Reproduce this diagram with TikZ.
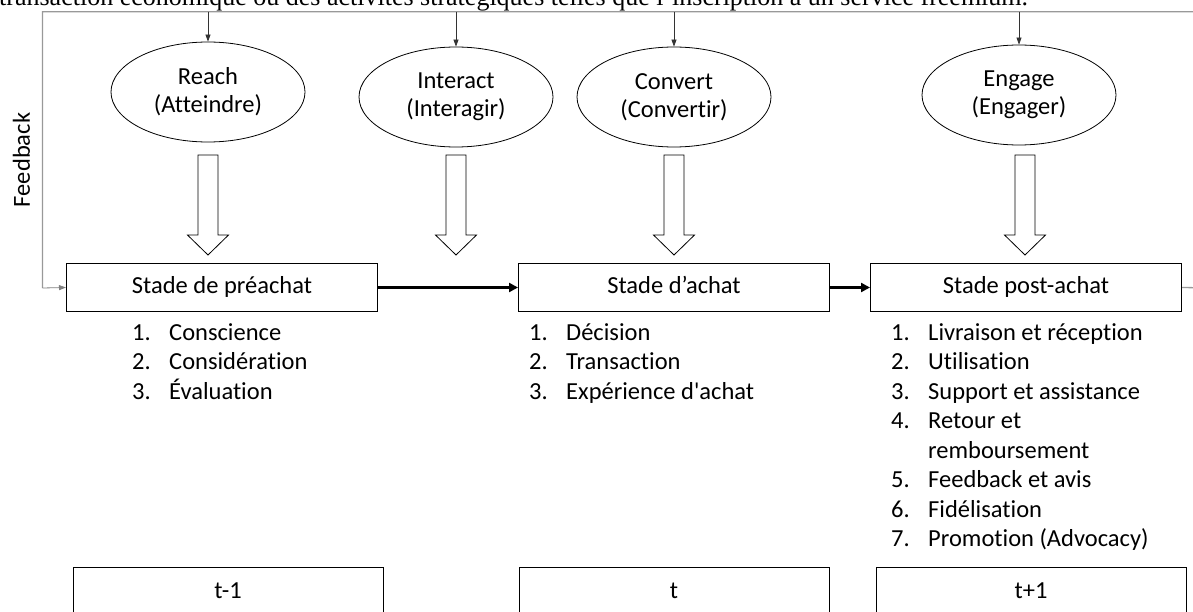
\documentclass[tikz,border=0pt]{standalone}
\usepackage{fontspec}
\setmainfont{Carlito}[Ligatures={TeX,NoCommon}]
\newfontfamily\topserif{Liberation Serif}
\usetikzlibrary{shapes.geometric,arrows.meta}
\tikzset{
  txt/.style={font=\fontsize{24.5}{28}\selectfont},
  stagebox/.style={draw,line width=1pt,minimum width=311pt,minimum height=48pt,inner sep=0pt,text height=16pt,text depth=5pt,txt},
  timebox/.style={draw,line width=1pt,minimum width=310pt,minimum height=52pt,inner sep=0pt,text height=16pt,text depth=5pt,txt},
  phase/.style={draw,ellipse,line width=0.8pt,minimum width=194pt,minimum height=100pt,inner sep=0pt,align=center,txt},
  drop/.style={draw=black!80,line width=0.7pt,-{Triangle[length=7pt,width=5pt]}},
  loopline/.style={draw=black!40,line width=1.3pt},
  flow/.style={draw,line width=2.8pt,-{Triangle[length=9pt,width=9pt]}},
  item/.style={anchor=base west,inner sep=0pt,txt},
  bigarrow/.style={draw,line width=0.8pt,fill=white}
}
\newcommand\hollowarrow[1]{%
  \draw[bigarrow] ({#1-10},155) -- ({#1+10},155) -- ({#1+10},235) -- ({#1+20.5},235)
    -- (#1,255) -- ({#1-20.5},235) -- ({#1-10},235) -- cycle;}
\newcommand\listitems[2]{%
  \foreach \n/\t [count=\i from 0] in {#2} {
    \node[item] at (#1,{340+29.5*\i}) {\n};
    \node[item] at ({#1+37},{340+29.5*\i}) {\t};
  }}
\begin{document}
\begin{tikzpicture}[x=1pt,y=-1pt]
\useasboundingbox (0,0) rectangle (1193,612);
\clip (0,0) rectangle (1193,612);

% clipped line of text above the figure
\node[anchor=base west,inner sep=0pt,font=\topserif\fontsize{26}{30}\selectfont] (toptext) at (-1,5.5)
  {transaction économique ou des activités stratégiques telles que l’inscription à un service freemium.};

% phases
\node[phase] (reach)    at (208,92)  {Reach\\(Atteindre)};
\node[phase] (interact) at (456,97)  {Interact\\(Interagir)};
\node[phase] (convert)  at (674,97)  {Convert\\(Convertir)};
\node[phase] (engage)   at (1019,95) {Engage\\(Engager)};

% stages
\node[stagebox] (pre)  at (222,287.5)  {Stade de préachat};
\node[stagebox] (buy)  at (674,287.5)  {Stade d’achat};
\node[stagebox] (post) at (1026,287.5) {Stade post-achat};

% time boxes
\node[timebox] (tm1) at (228,593)  {t-1};
\node[timebox] (t0)  at (674,593)  {t};
\node[timebox] (tp1) at (1031,593) {t+1};

% feedback loop
\coordinate (tr) at (1215,11.7);
\coordinate (br) at (1215,288);
\coordinate (tl) at (42.5,11.7);
\coordinate (bl) at (42.5,288);
\draw[loopline] (post.east) -- (br) -- (tr) -- (tl) -- (bl);
\draw[draw=black!50,line width=0.8pt,-{Triangle[length=7pt,width=5pt]}] (bl) -- (pre.west);
\node[rotate=90,txt,inner sep=0pt] (fb) at (21.5,160) {Feedback};

% drops from the loop
\coordinate (d1) at (208,11.7);
\coordinate (d2) at (456,11.7);
\coordinate (d3) at (674,11.7);
\coordinate (d4) at (1019,11.7);
\draw[drop] (d1) -- (reach.north);
\draw[drop] (d2) -- (interact.north);
\draw[drop] (d3) -- (convert.north);
\draw[drop] (d4) -- (engage.north);

% hollow block arrows
\hollowarrow{208}
\hollowarrow{456}
\hollowarrow{674}
\hollowarrow{1025}

% flow between stages
\draw[flow] (pre.east) -- (buy.west);
\draw[flow] (buy.east) -- (post.west);

% lists
\listitems{132}{1./Conscience, 2./Considération, 3./Évaluation}
\listitems{529}{1./Décision, 2./Transaction, 3./Expérience d\textquotesingle achat}
\listitems{891}{1./Livraison et réception, 2./Utilisation, 3./Support et assistance,
  4./Retour et, /remboursement, 5./Feedback et avis, 6./Fidélisation, 7./Promotion (Advocacy)}
\end{tikzpicture}
\end{document}
